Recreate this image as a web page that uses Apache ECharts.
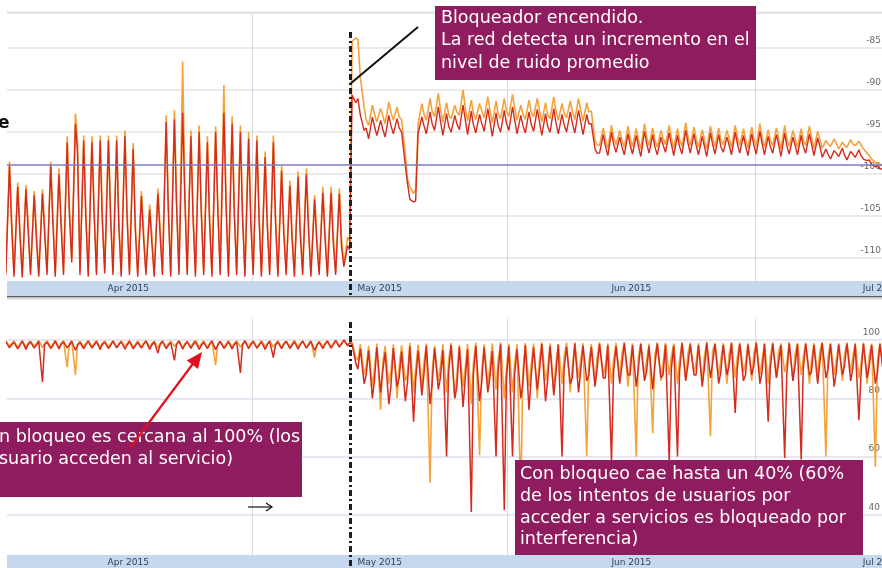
<!DOCTYPE html>
<html>
<head>
<meta charset="utf-8">
<script src="https://cdn.jsdelivr.net/npm/echarts@6/dist/echarts.min.js"></script>
<style>
html,body{margin:0;padding:0;background:#fff;}
#c{width:882px;height:568px;}
</style>
</head>
<body>
<div id="c"></div>
<script>
// ---- Data (days since 1 Apr 2015; three samples per day at d+0.15, d+0.6, d+0.85) ----
const monthLabels = ['Apr 2015', 'May 2015', 'Jun 2015', 'Jul 2015'];
const monthStarts = [30, 61, 91];
const monthMids = [15, 45.5, 76, 106.3];
const jammerDay = 41.9;
const noiseThreshold = -98.9;
const topYTicks = [-110, -105, -100, -95, -90, -85];
const botYTicks = [40, 60, 80, 100];

// Top panel: noise level (dBm)
const topOrangeLow = [
  -111.6,-111.8,-111.9,-111.6,-111.8,-111.6,-111.8,-111.6,-110.0,-111.6,
  -111.8,-111.6,-111.4,-111.6,-111.8,-111.6,-111.8,-111.6,-111.8,-111.6,
  -111.8,-111.6,-111.6,-111.8,-111.6,-111.8,-111.6,-111.8,-111.6,-111.8,
  -111.6,-111.8,-111.6,-111.8,-111.6,-111.8,-111.6,-111.8,-111.6,-111.8,
  -111.6,-110.6,-84.2,-88.5,-94.2,-93.8,-94.0,-93.6,-93.5,-101.5,
  -94.0,-93.6,-93.2,-93.8,-93.4,-93.0,-93.7,-93.5,-93.3,-93.9,
  -93.4,-93.1,-93.6,-93.5,-93.2,-93.8,-93.4,-93.6,-93.3,-93.5,
  -93.7,-92.5,-96.6,-96.9,-96.5,-96.8,-96.7,-97.0,-96.6,-96.8,
  -96.5,-96.9,-96.7,-96.6,-96.8,-97.0,-96.7,-96.5,-96.8,-96.6,
  -96.9,-96.7,-96.8,-96.6,-97.0,-96.7,-96.8,-96.6,-96.9,-96.9,
  -96.7,-97.0,-96.8,-96.6,-97.0,-98.2,-98.8
];
const topOrangeHigh = [
  -98.5,-101.0,-101.3,-102.0,-101.8,-98.5,-99.3,-95.5,-92.8,-95.4,
  -95.5,-95.4,-95.4,-95.4,-94.8,-96.3,-102.0,-103.6,-101.7,-93.0,
  -92.4,-86.6,-94.8,-94.2,-95.5,-94.3,-89.4,-93.1,-94.2,-95.0,
  -95.4,-97.3,-95.4,-99.0,-100.8,-99.7,-99.3,-102.5,-101.5,-101.5,
  -101.7,-107.5,-83.8,-92.0,-91.8,-92.2,-91.4,-92.0,-97.5,-102.3,
  -91.6,-91.0,-90.4,-91.5,-91.8,-90.0,-91.2,-91.6,-90.8,-91.3,
  -91.0,-90.5,-91.8,-91.2,-91.0,-91.5,-90.8,-91.6,-91.3,-91.0,
  -91.5,-96.0,-94.5,-94.2,-94.8,-94.3,-94.6,-94.0,-94.5,-94.8,
  -94.2,-94.6,-93.9,-94.4,-94.7,-94.3,-94.5,-94.8,-94.2,-94.6,
  -94.4,-94.0,-94.7,-94.5,-94.2,-94.8,-94.6,-94.3,-94.9,-96.0,
  -95.8,-96.2,-95.9,-96.1,-97.5,-98.6,-99.0
];
const topOrangeMid = [
  -105.0,-106.0,-105.5,-106.5,-105.8,-104.5,-105.0,-103.5,-96.0,-104.0,
  -103.5,-104.5,-104.0,-105.0,-104.0,-105.5,-106.5,-107.0,-106.0,-103.0,
  -102.5,-101.0,-104.0,-103.5,-104.5,-103.0,-102.0,-103.5,-104.0,-104.5,
  -104.0,-105.0,-104.5,-106.0,-106.5,-106.0,-105.5,-107.0,-106.5,-107.0,
  -107.5,-108.0,-84.0,-93.5,-92.8,-93.0,-92.6,-93.2,-100.5,-101.8,
  -92.8,-92.5,-92.2,-92.9,-92.6,-92.0,-92.7,-92.4,-92.3,-92.8,
  -92.5,-92.1,-92.8,-92.6,-92.3,-92.9,-92.4,-92.7,-92.5,-92.3,
  -92.6,-96.5,-95.8,-95.6,-95.9,-95.7,-95.8,-95.5,-95.9,-95.7,
  -95.6,-95.9,-95.4,-95.7,-95.8,-95.6,-95.9,-95.7,-95.5,-95.8,
  -95.7,-95.5,-95.9,-95.6,-95.8,-95.7,-95.9,-95.6,-95.8,-96.4,
  -96.3,-96.6,-96.4,-96.5,-97.8,-98.7,-99.2
];
const topRedLow = [
  -112.0,-112.2,-112.3,-112.0,-112.2,-112.0,-112.2,-112.0,-110.5,-112.0,
  -112.2,-112.0,-111.8,-112.0,-112.2,-112.0,-112.2,-112.0,-112.2,-112.0,
  -112.2,-112.0,-112.0,-112.2,-112.0,-112.2,-112.0,-112.2,-112.0,-112.2,
  -112.0,-112.2,-112.0,-112.2,-112.0,-112.2,-112.0,-112.2,-112.0,-112.2,
  -112.0,-111.0,-90.6,-93.0,-95.8,-95.4,-95.6,-95.2,-95.0,-103.0,
  -95.2,-95.2,-94.8,-95.4,-95.0,-94.7,-95.3,-95.1,-94.9,-95.5,
  -95.0,-94.8,-95.2,-95.1,-94.9,-95.4,-95.0,-95.2,-95.0,-95.1,
  -95.3,-94.0,-97.5,-97.8,-97.4,-97.7,-97.6,-97.9,-97.5,-97.7,
  -97.4,-97.8,-97.6,-97.5,-97.7,-97.9,-97.6,-97.4,-97.7,-97.5,
  -97.8,-97.6,-97.7,-97.5,-97.9,-97.6,-97.7,-97.5,-97.8,-98.0,
  -98.2,-97.9,-98.3,-98.0,-98.2,-98.9,-99.4
];
const topRedHigh = [
  -99.0,-101.5,-101.8,-102.5,-102.3,-99.0,-100.0,-96.2,-94.0,-96.0,
  -96.2,-96.0,-96.0,-96.0,-95.5,-97.0,-102.6,-104.2,-102.3,-93.8,
  -93.5,-92.7,-95.5,-95.0,-96.2,-95.0,-92.7,-94.0,-95.0,-95.8,
  -96.0,-98.0,-96.2,-99.6,-101.4,-100.3,-100.0,-103.0,-102.2,-102.2,
  -102.3,-108.5,-91.5,-94.8,-93.2,-93.6,-93.0,-93.4,-99.0,-103.3,
  -93.2,-92.6,-92.0,-92.8,-93.0,-91.8,-92.5,-92.9,-92.2,-92.7,
  -92.4,-92.0,-93.0,-92.6,-92.3,-92.8,-92.2,-92.9,-92.6,-92.4,
  -92.9,-97.0,-95.3,-95.0,-95.6,-95.2,-95.4,-94.9,-95.3,-95.6,
  -95.1,-95.4,-94.8,-95.2,-95.5,-95.1,-95.3,-95.6,-95.0,-95.4,
  -95.2,-94.9,-95.5,-95.3,-95.1,-95.6,-95.4,-95.2,-95.7,-97.0,
  -97.2,-96.9,-97.3,-97.1,-98.4,-99.1,-99.3
];
const topRedMid = [
  -106.0,-107.0,-106.5,-107.5,-106.8,-105.5,-106.0,-104.5,-97.5,-105.0,
  -104.5,-105.5,-105.0,-106.0,-105.0,-106.5,-107.5,-108.0,-107.0,-104.0,
  -103.5,-102.5,-105.0,-104.5,-105.5,-104.0,-103.5,-104.5,-105.0,-105.5,
  -105.0,-106.0,-105.5,-107.0,-107.5,-107.0,-106.5,-108.0,-107.5,-108.0,
  -108.5,-109.0,-91.0,-94.5,-94.3,-94.6,-94.2,-94.5,-101.0,-103.2,
  -94.2,-94.0,-93.6,-94.3,-94.0,-93.4,-94.1,-93.9,-93.7,-94.2,
  -93.9,-93.5,-94.2,-94.0,-93.7,-94.3,-93.8,-94.1,-93.9,-93.7,
  -94.0,-97.5,-96.6,-96.4,-96.7,-96.5,-96.6,-96.3,-96.7,-96.5,
  -96.4,-96.7,-96.2,-96.5,-96.6,-96.4,-96.7,-96.5,-96.3,-96.6,
  -96.5,-96.3,-96.7,-96.4,-96.6,-96.5,-96.7,-96.4,-96.6,-97.6,
  -97.5,-97.7,-97.6,-97.8,-98.3,-99.0,-99.4
];

// Bottom panel: access success rate (%)
const botOrangeHigh = [
  99.8,99.7,99.8,99.6,99.8,99.7,99.9,99.7,99.8,99.6,
  99.7,99.8,99.6,99.8,99.7,99.9,99.7,99.8,99.6,99.8,
  99.7,99.8,99.6,99.9,99.7,99.8,99.6,99.8,99.7,99.9,
  99.7,99.8,99.6,99.8,99.7,99.9,99.7,99.8,99.6,99.8,
  99.9,100.0,99.2,98.6,98.0,98.8,97.9,98.5,98.2,99.0,
  98.4,98.8,98.0,98.6,99.0,98.3,98.7,99.1,98.5,98.9,
  99.2,98.7,98.5,99.0,98.8,99.3,98.9,98.6,99.1,99.2,
  98.9,98.7,99.2,98.8,99.0,99.3,98.9,99.1,98.8,99.2,
  99.0,98.8,99.3,99.1,98.9,99.4,99.0,98.9,99.3,99.1,
  98.9,99.4,99.0,99.2,98.8,99.3,99.0,99.1,98.9,99.3,
  99.0,98.9,99.2,99.0,99.1,98.8,99.0
];
const botOrangeLow = [
  97.8,97.5,97.6,97.9,97.4,97.7,97.5,90.7,88.0,97.6,
  97.8,97.5,97.7,97.4,97.8,97.6,97.5,97.7,97.4,97.6,
  97.8,97.5,97.7,97.6,97.4,91.4,97.7,97.5,97.6,97.8,
  97.5,97.7,97.6,97.4,97.8,97.6,97.5,94.0,97.7,97.6,
  98.0,98.4,94,88,84,76,85,80,86,82,
  84,51,86,82,80,84,78,60.5,85,83,
  80,82,45,84,80,86,83,85,82,87,
  60,86,88,85,87,84,60,88,68,86,
  88,85,87,89,86,67,88,85,87,89,
  86,88,85,87,89,86,88,85,87,60,
  88,86,89,87,85,56.5,88
];
const botOrangeMid = [
  98.8,98.6,98.9,98.7,98.8,98.5,98.9,98.7,98.6,98.8,
  98.7,98.9,98.6,98.8,98.7,98.5,98.9,98.7,98.8,98.6,
  98.8,98.7,98.9,98.6,98.8,98.7,98.5,98.9,98.7,98.8,
  98.6,98.8,98.7,98.9,98.6,98.8,98.7,98.5,98.9,98.8,
  98.9,99.2,93,91,90,92,89,91,88,90,
  92,89,91,93,88,90,92,89,91,93,
  90,92,89,91,93,90,92,94,91,93,
  92,94,91,93,95,92,94,93,95,92,
  94,93,95,92,94,96,93,95,94,92,
  95,93,94,96,92,95,94,93,96,94,
  93,95,94,92,95,93,94
];
const botRedHigh = [
  99.5,99.2,99.6,99.4,99.5,99.3,99.6,99.4,99.5,99.2,
  99.6,99.5,99.3,99.6,99.4,99.5,99.3,99.6,99.4,99.5,
  99.2,99.6,99.4,99.5,99.3,99.6,99.5,99.4,99.3,99.6,
  99.5,99.4,99.6,99.3,99.5,99.4,99.6,99.5,99.3,99.6,
  99.8,100.0,98.5,97.0,96.5,97.5,95.8,97.2,96.0,97.8,
  96.4,98.0,97.2,96.5,98.3,97.6,96.8,98.0,97.4,96.2,
  98.5,97.8,96.9,98.2,97.5,98.6,97.9,98.4,97.7,98.8,
  98.1,97.6,98.7,98.2,97.8,98.9,98.3,98.6,97.9,98.8,
  98.4,98.0,98.9,98.5,98.2,99.0,98.6,98.3,98.9,98.7,
  98.4,99.0,98.6,98.8,98.2,98.9,98.5,98.7,98.3,98.9,
  98.6,98.4,98.8,98.5,98.7,98.3,98.6
];
const botRedLow = [
  97.3,97.0,96.8,97.2,85.6,97.1,96.9,97.3,96.5,97.0,
  97.2,96.8,97.1,97.3,96.9,97.0,97.2,96.8,95.5,97.0,
  93.0,96.9,97.1,96.8,97.0,96.7,97.1,96.9,88.7,97.0,
  97.2,96.8,94.0,97.0,97.1,96.9,97.2,96.5,97.0,97.2,
  97.6,98.0,92,85,80,82,78,84,79,72,
  81,78,83,60,80,77,41,79,82,60,
  41.7,60,80,76,83,79,81,60,85,82,
  86,84,87,58,85,88,84,86,83,87,
  58,60,86,88,84,87,85,88,75,86,
  88,85,72,87,59.5,86,59,88,85,87,
  84,88,86,72.5,87,85,88
];
const botRedMid = [
  98.3,98.1,98.4,98.2,98.3,98.0,98.4,98.2,98.1,98.3,
  98.2,98.4,98.1,98.3,98.2,98.0,98.4,98.2,98.3,98.1,
  98.3,98.2,98.4,98.1,98.3,98.2,98.0,98.4,98.2,98.3,
  98.1,98.3,98.2,98.4,98.1,98.3,98.2,98.0,98.4,98.3,
  98.5,99.0,90,88,86,89,84,87,85,86,
  88,85,87,89,84,86,88,85,87,89,
  86,88,85,87,89,86,88,90,87,89,
  88,90,87,89,91,88,90,89,91,88,
  90,89,91,88,90,92,89,91,90,88,
  91,89,90,92,88,91,90,89,92,90,
  89,91,90,88,91,89,90
];

// ---- build series points (three samples per day) ----
function build(a, b, c) {
  const out = [];
  for (let d = 0; d < a.length; d++) {
    out.push([d + 0.15, a[d]]);
    out.push([d + 0.6, b[d]]);
    out.push([d + 0.85, c[d]]);
  }
  return out;
}
const topOrange = build(topOrangeLow, topOrangeHigh, topOrangeMid);
const topRed = build(topRedLow, topRedHigh, topRedMid);
const botOrange = build(botOrangeHigh, botOrangeLow, botOrangeMid);
const botRed = build(botRedHigh, botRedLow, botRedMid);

const X_MIN = 0.3, X_MAX = 106.4;
const RED = '#d42b1e', ORANGE = '#f4a23a';
const FONT = 'DejaVu Sans';

function mainX(i) {
  return {
    type: 'value', gridIndex: i, position: 'bottom', min: X_MIN, max: X_MAX,
    axisLine: { show: false },
    axisTick: { show: false, customValues: monthStarts },
    axisLabel: { show: false },
    splitLine: { show: true, lineStyle: { color: '#d9d9d9', width: 1 } }
  };
}
function labelX(i, margin) {
  return {
    type: 'value', gridIndex: i, position: 'bottom', min: X_MIN, max: X_MAX, z: 5,
    axisLine: { show: false },
    axisTick: { show: false, customValues: monthMids },
    splitLine: { show: false },
    axisLabel: {
      inside: true, margin: margin, customValues: monthMids, hideOverlap: false,
      formatter: v => { const k = monthMids.indexOf(v); return k >= 0 ? monthLabels[k] : ''; },
      color: '#34415a', fontSize: 9, fontFamily: FONT
    }
  };
}

const chart = echarts.init(document.getElementById('c'), null, { renderer: 'canvas' });

const boxText = (x, y, lh, text) => ({
  type: 'text', x: x, y: y, z: 31,
  style: { text: text, fill: '#ffffff', font: '17.5px "DejaVu Sans"', lineHeight: lh, verticalAlign: 'top', align: 'left' }
});

const option = {
  animation: false,
  backgroundColor: '#ffffff',
  grid: [
    { left: 7, right: 0, top: 13, bottom: 271, outerBoundsMode: 'none', containLabel: false },
    { left: 7, right: 0, top: 319, bottom: 0, outerBoundsMode: 'none', containLabel: false }
  ],
  xAxis: [mainX(0), mainX(1), labelX(0, 4), labelX(1, 1)],
  yAxis: [
    {
      type: 'value', gridIndex: 0, position: 'right', min: -114.61, max: -80.83,
      axisLine: { show: false },
      axisTick: { show: false, customValues: topYTicks },
      axisLabel: { inside: true, margin: 1, customValues: topYTicks, verticalAlign: 'bottom', padding: [0, 0, 3, 0],
                   color: '#666', fontSize: 9, fontFamily: FONT },
      splitLine: { show: true, lineStyle: { color: '#e4e4e4', width: 1.5 } }
    },
    {
      type: 'value', gridIndex: 1, position: 'right', min: 21.76, max: 107.21,
      axisLine: { show: false },
      axisTick: { show: false, customValues: botYTicks },
      axisLabel: { inside: true, margin: 2, customValues: botYTicks, verticalAlign: 'bottom', padding: [0, 0, 3, 0],
                   color: '#666', fontSize: 9, fontFamily: FONT },
      splitLine: { show: true, lineStyle: { color: '#dedff0', width: 1.5 } }
    }
  ],
  series: [
    { type: 'line', xAxisIndex: 0, yAxisIndex: 0, data: topOrange, showSymbol: false, symbol: 'none',
      lineStyle: { color: ORANGE, width: 1.6 }, z: 3, silent: true },
    { type: 'line', xAxisIndex: 0, yAxisIndex: 0, data: topRed, showSymbol: false, symbol: 'none',
      lineStyle: { color: RED, width: 1.4 }, z: 4, silent: true,
      markLine: {
        silent: true, symbol: ['none', 'none'], label: { show: false },
        data: [
          { yAxis: noiseThreshold, lineStyle: { color: '#7c7cbc', width: 1.5, type: 'solid' } },
          [ { coord: [jammerDay, -83.1], lineStyle: { color: '#1e1e1e', width: 3, type: [6, 3, 2, 3] } },
            { coord: [jammerDay, -114.5] } ]
        ]
      }
    },
    { type: 'line', xAxisIndex: 1, yAxisIndex: 1, data: botOrange, showSymbol: false, symbol: 'none',
      lineStyle: { color: ORANGE, width: 1.6 }, z: 3, silent: true },
    { type: 'line', xAxisIndex: 1, yAxisIndex: 1, data: botRed, showSymbol: false, symbol: 'none',
      lineStyle: { color: RED, width: 1.5 }, z: 4, silent: true,
      markLine: {
        silent: true, symbol: ['none', 'none'], label: { show: false },
        data: [
          [ { coord: [jammerDay, 106.2], lineStyle: { color: '#1e1e1e', width: 3, type: [6, 3, 2, 3] } },
            { coord: [jammerDay, 21.8] } ]
        ]
      }
    }
  ],
  graphic: [
    { type: 'rect', shape: { x: 7, y: 11.5, width: 875, height: 2.5 }, style: { fill: '#e3e3e3' }, z: 1, silent: true },
    { type: 'rect', shape: { x: 7, y: 281, width: 875, height: 15 }, style: { fill: '#c6d8ee' }, z: 1, silent: true },
    { type: 'rect', shape: { x: 7, y: 296, width: 875, height: 1.5 }, style: { fill: '#555a63' }, z: 1, silent: true },
    { type: 'rect', shape: { x: 7, y: 297.5, width: 875, height: 2 }, style: { fill: '#d6d6d6' }, z: 1, silent: true },
    { type: 'rect', shape: { x: 7, y: 555, width: 875, height: 13 }, style: { fill: '#c6d8ee' }, z: 1, silent: true },
    { type: 'text', x: -2, y: 124, z: 30, style: { text: 'e', fill: '#111', font: 'bold 17px "DejaVu Sans"', verticalAlign: 'middle' } },
    { type: 'rect', shape: { x: 435, y: 6, width: 321, height: 74 }, style: { fill: '#8f1c5e' }, z: 30, silent: true },
    boxText(441, 7, 22.5, 'Bloqueador encendido.\nLa red detecta un incremento en el\nnivel de ruido promedio'),
    { type: 'line', shape: { x1: 350, y1: 84, x2: 418, y2: 27 }, style: { stroke: '#111', lineWidth: 2 }, z: 32, silent: true },
    { type: 'rect', shape: { x: -5, y: 422, width: 307, height: 75 }, style: { fill: '#8f1c5e' }, z: 30, silent: true },
    boxText(-1, 427, 21.5, 'n bloqueo es cercana al 100% (los\nsuario acceden al servicio)'),
    { type: 'line', shape: { x1: 130, y1: 448, x2: 195, y2: 361 }, style: { stroke: '#e0101c', lineWidth: 2.2 }, z: 32, silent: true },
    { type: 'polygon', shape: { points: [[202, 352], [198, 369], [186.8, 360.6]] }, style: { fill: '#e0101c' }, z: 32, silent: true },
    { type: 'line', shape: { x1: 248, y1: 507, x2: 272, y2: 507 }, style: { stroke: '#111', lineWidth: 1.2 }, z: 32, silent: true },
    { type: 'polyline', shape: { points: [[266, 503], [272, 507], [266, 511]] }, style: { stroke: '#111', lineWidth: 1.2, fill: null }, z: 32, silent: true },
    { type: 'rect', shape: { x: 515, y: 460, width: 348, height: 95 }, style: { fill: '#8f1c5e' }, z: 30, silent: true },
    boxText(520, 464, 21.7, 'Con bloqueo cae hasta un 40% (60%\nde los intentos de usuarios por\nacceder a servicios es bloqueado por\ninterferencia)')
  ]
};
chart.setOption(option);
</script>
</body>
</html>
